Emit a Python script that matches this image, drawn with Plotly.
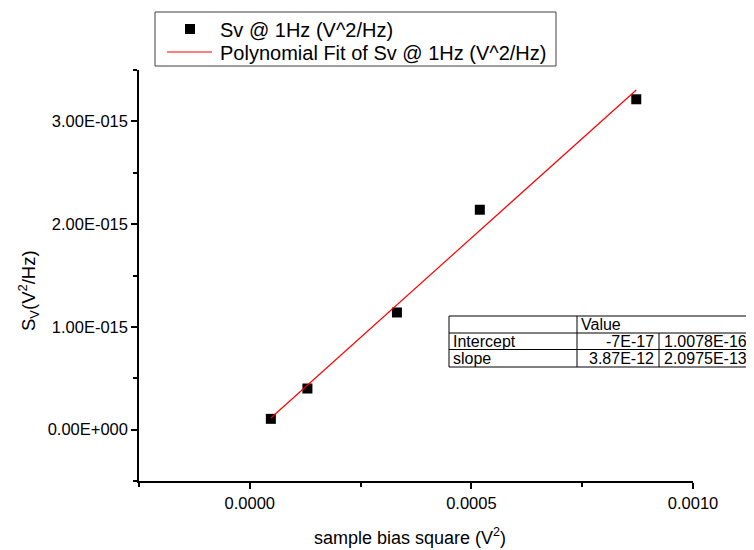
import plotly.graph_objects as go

# ---- data ----
x_vals = [4.75e-5, 1.30e-4, 3.32e-4, 5.19e-4, 8.72e-4]
sv_vals = [0.105e-15, 0.40e-15, 1.14e-15, 2.14e-15, 3.215e-15]
fit_intercept = -7e-17
fit_slope = 3.87e-12

series_names = ["Sv @ 1Hz (V^2/Hz)", "Polynomial Fit of Sv @ 1Hz (V^2/Hz)"]

x_tickvals = [0.0, 0.0005, 0.0010]
x_ticktext = ["0.0000", "0.0005", "0.0010"]
x_minor = [-0.00025, 0.00025, 0.00075]
y_tickvals = [0.0, 1e-15, 2e-15, 3e-15]
y_ticktext = ["0.00E+000", "1.00E-015", "2.00E-015", "3.00E-015"]
y_minor = [-5e-16, 5e-16, 1.5e-15, 2.5e-15, 3.5e-15]

x_title = "sample bias square (V<sup>2</sup>)"
y_title = "S<sub>V</sub>(V<sup>2</sup>/Hz)"

table_header = "Value"
table_rows = ["Intercept", "slope"]
table_vals = ["-7E-17", "3.87E-12"]
table_errs = ["1.0078E-16", "2.0975E-13"]

# ---- layout geometry ----
# the page body has an 8px margin, so window pixel X maps to figure pixel X-8
OFF = 8
W, H = 754 - OFF, 550 - OFF
L, R, T, B = 139 - OFF, 693 - OFF, 70 - OFF, 481 - OFF
FONT = "Arial, Liberation Sans, sans-serif"

def px(X):  # window pixel -> paper x
    return (X - OFF - L) / (R - L)

def py(Y):  # window pixel -> paper y
    return (B - (Y - OFF)) / (B - T)

fit_x = [x_vals[0], x_vals[-1]]
fit_y = [fit_intercept + fit_slope * v for v in fit_x]

fig = go.Figure()
fig.add_trace(go.Scatter(
    x=x_vals, y=sv_vals, mode="markers",
    marker=dict(symbol="square", size=10, color="black"),
    name=series_names[0]))
fig.add_trace(go.Scatter(
    x=fit_x, y=fit_y, mode="lines",
    line=dict(color="red", width=1.2),
    name=series_names[1]))

axis_common = dict(showline=True, linecolor="black", linewidth=1.5,
                   ticks="outside", ticklen=6, tickwidth=1.5, tickcolor="black",
                   showgrid=False, zeroline=False, mirror=False,
                   tickfont=dict(family=FONT, size=16.5, color="black"))

fig.update_xaxes(range=[-0.00025, 0.0010], tickmode="array",
                 tickvals=x_tickvals, ticktext=x_ticktext,
                 minor=dict(tickmode="array", tickvals=x_minor, ticks="outside",
                            ticklen=4, tickwidth=1.5, tickcolor="black"),
                 **axis_common)
fig.update_yaxes(range=[-5e-16, 3.5e-15], tickmode="array",
                 tickvals=y_tickvals, ticktext=y_ticktext,
                 minor=dict(tickmode="array", tickvals=y_minor, ticks="outside",
                            ticklen=4, tickwidth=1.5, tickcolor="black"),
                 **axis_common)

shapes = []
annotations = []

def seg(x0, y0, x1, y1, color="black", width=1):
    shapes.append(dict(type="line", xref="paper", yref="paper",
                       x0=px(x0), y0=py(y0), x1=px(x1), y1=py(y1),
                       line=dict(color=color, width=width)))

def box(x0, y0, x1, y1, line_color, fill):
    shapes.append(dict(type="rect", xref="paper", yref="paper",
                       x0=px(x0), y0=py(y1), x1=px(x1), y1=py(y0),
                       line=dict(color=line_color, width=1), fillcolor=fill, layer="above"))

def txt(X, Y, s, anchor, size=16, angle=0):
    annotations.append(dict(xref="paper", yref="paper", x=px(X), y=py(Y), text=s,
                            showarrow=False, xanchor=anchor, yanchor="middle",
                            textangle=angle,
                            font=dict(family=FONT, size=size, color="black")))

# ---- axis titles ----
txt(410, 536, x_title, "center", size=18)
txt(28, 291, y_title, "center", size=18.5, angle=-90)

# ---- legend (Origin style) ----
box(155, 12, 556, 66, "#404040", "white")
shapes.append(dict(type="rect", xref="paper", yref="paper",
                   x0=px(185), y0=py(34), x1=px(195), y1=py(24),
                   line=dict(width=0), fillcolor="black", layer="above"))
seg(167, 52, 212, 52, color="red", width=1.2)
txt(218, 29.5, series_names[0], "left", size=20)
txt(218, 52.5, series_names[1], "left", size=20)

# ---- parameter table (Origin style), window pixel positions ----
tl, c2, c3, tr = 449, 577, 659, 752
tt, r1, r2, tb = 316, 333, 349.5, 367
box(tl, tt, tr, tb, "black", "white")
seg(tl, r1, tr, r1)
seg(tl, r2, tr, r2)
seg(c2, tt, c2, tb)
seg(c3, r1, c3, tb)

txt(c2 + 2, (tt + r1) / 2, table_header, "left")
rows_y = [(r1 + r2) / 2, (r2 + tb) / 2]
for i in range(len(table_rows)):
    txt(tl + 2, rows_y[i], table_rows[i], "left")
    txt(c3 - 3, rows_y[i], table_vals[i], "right")
    txt(tr - 3, rows_y[i], table_errs[i], "right")

fig.update_layout(
    width=W, height=H,
    margin=dict(l=L, r=W - R, t=T, b=H - B, pad=0),
    paper_bgcolor="white", plot_bgcolor="white",
    font=dict(family=FONT, size=16, color="black"),
    showlegend=False,
    shapes=shapes, annotations=annotations,
)

fig.write_html("out.html")
